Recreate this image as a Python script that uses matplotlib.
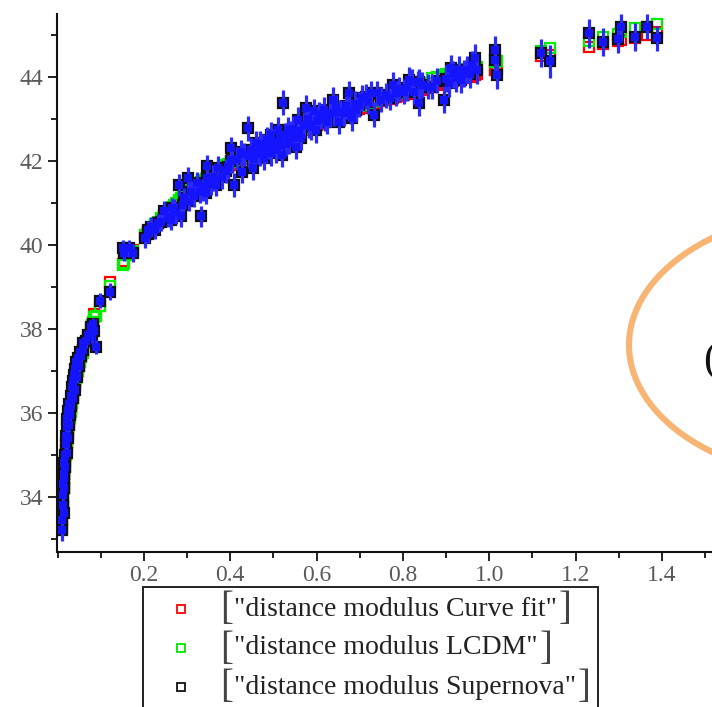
import matplotlib
matplotlib.use("Agg")
import matplotlib.pyplot as plt
from matplotlib.patches import Ellipse, Rectangle
from matplotlib.ticker import MultipleLocator

# redshift, observed distance modulus and its error
z = [0.010, 0.011, 0.012, 0.012, 0.013, 0.014, 0.014, 0.015, 0.016, 0.016,
     0.017, 0.018, 0.019, 0.020, 0.021, 0.022, 0.023, 0.024, 0.025, 0.026,
     0.027, 0.028, 0.030, 0.031, 0.033, 0.035, 0.036, 0.038, 0.040, 0.041,
     0.043, 0.045, 0.047, 0.050, 0.052, 0.055, 0.058, 0.060, 0.066, 0.070,
     0.077, 0.080, 0.083, 0.085, 0.089, 0.099, 0.122,
     0.151, 0.154, 0.166, 0.174, 0.202, 0.209, 0.210, 0.216, 0.225, 0.232,
     0.240, 0.247, 0.255, 0.262, 0.266, 0.270, 0.275, 0.282, 0.286, 0.290,
     0.293, 0.301, 0.305, 0.309, 0.315, 0.324, 0.330, 0.332, 0.336, 0.340,
     0.344, 0.347, 0.347, 0.355, 0.359, 0.362, 0.367, 0.371, 0.380, 0.390,
     0.395, 0.401, 0.401, 0.405, 0.408, 0.415, 0.425, 0.428, 0.432, 0.440,
     0.444, 0.448, 0.452, 0.455, 0.459, 0.463, 0.468, 0.470, 0.475, 0.478,
     0.482, 0.486, 0.490, 0.494, 0.494, 0.500, 0.505, 0.510, 0.510, 0.515,
     0.518, 0.521, 0.523, 0.528, 0.530, 0.533, 0.536, 0.540, 0.545, 0.548,
     0.552, 0.556, 0.560, 0.565, 0.570, 0.575, 0.580, 0.583, 0.588, 0.594,
     0.598, 0.600, 0.605, 0.610, 0.617, 0.620, 0.625, 0.630, 0.637, 0.641,
     0.645, 0.652, 0.655, 0.664, 0.668, 0.675, 0.679, 0.683, 0.688, 0.691,
     0.698, 0.706, 0.714, 0.720, 0.725, 0.732, 0.741, 0.749, 0.760, 0.770,
     0.776, 0.783, 0.790, 0.803, 0.810, 0.814, 0.822, 0.826, 0.834, 0.837,
     0.837, 0.845, 0.857, 0.868, 0.880, 0.895, 0.900, 0.907, 0.911, 0.915,
     0.922, 0.930, 0.934, 0.941, 0.949, 0.955, 0.961, 0.968, 0.971,
     1.013, 1.013, 1.017, 1.119, 1.141, 1.231, 1.264, 1.299, 1.306, 1.337,
     1.366, 1.388]

mu_sn = [33.20, 33.45, 33.80, 34.05, 34.30, 33.60, 34.55, 34.20, 34.80, 34.45,
         35.00, 34.70, 35.25, 35.45, 35.05, 35.65, 35.85, 35.40, 36.05, 35.70,
         36.20, 35.95, 36.40, 36.15, 36.60, 36.35, 36.75, 36.90, 36.55, 37.05,
         37.20, 36.85, 37.30, 37.10, 37.45, 37.35, 37.65, 37.50, 37.70, 37.85,
         38.05, 37.80, 38.10, 37.95, 37.57, 38.66, 38.88,
         39.91, 39.80, 39.91, 39.80, 40.15, 40.35, 40.25, 40.43, 40.35, 40.51,
         40.55, 40.79, 40.65, 40.59, 40.87, 40.85, 40.75, 41.42, 40.67, 40.95,
         41.10, 41.58, 41.05, 41.26, 41.15, 41.46, 41.25, 40.67, 41.30, 41.40,
         41.22, 41.86, 41.58, 41.45, 41.62, 41.55, 41.42, 41.82, 41.60, 41.75,
         41.85, 42.29, 41.98, 42.02, 41.42, 42.05, 42.21, 41.74, 42.15, 42.77,
         42.10, 42.25, 41.82, 42.05, 42.41, 42.21, 42.40, 42.15, 42.33, 42.06,
         42.25, 42.49, 42.35, 42.18, 42.61, 42.45, 42.25, 42.73, 42.41, 42.55,
         42.35, 42.14, 43.38, 42.60, 42.40, 42.73, 42.45, 42.65, 42.75, 42.53,
         42.33, 42.97, 42.70, 42.55, 42.85, 43.25, 43.00, 42.85, 42.80, 43.17,
         42.73, 42.95, 43.10, 43.05, 43.21, 43.00, 42.93, 43.10, 43.45, 43.13,
         43.25, 42.93, 43.15, 43.13, 43.30, 43.60, 43.17, 43.01, 43.35, 43.21,
         43.33, 43.49, 43.52, 43.40, 43.60, 43.09, 43.60, 43.45, 43.55, 43.50,
         43.80, 43.60, 43.70, 43.64, 43.72, 43.92, 43.88, 43.64, 43.84, 43.37,
         43.88, 43.80, 43.76, 43.76, 43.90, 43.45, 43.95, 43.84, 44.20, 44.05,
         43.96, 44.16, 43.92, 44.08, 44.16, 44.05, 44.28, 44.44, 44.16,
         44.64, 44.40, 44.04, 44.56, 44.36, 45.03, 44.82, 44.89, 45.17, 44.94,
         45.19, 44.91]

mu_err = [0.25, 0.20, 0.18, 0.20, 0.18, 0.22, 0.18, 0.20, 0.16, 0.18,
          0.16, 0.17, 0.15, 0.15, 0.16, 0.15, 0.14, 0.15, 0.14, 0.15,
          0.14, 0.14, 0.13, 0.14, 0.13, 0.14, 0.13, 0.13, 0.14, 0.13,
          0.13, 0.14, 0.13, 0.13, 0.13, 0.14, 0.13, 0.14, 0.15, 0.14,
          0.15, 0.15, 0.16, 0.15, 0.17, 0.18, 0.20,
          0.20, 0.20, 0.20, 0.22, 0.22, 0.22, 0.22, 0.22, 0.22, 0.22,
          0.23, 0.24, 0.24, 0.24, 0.24, 0.24, 0.25, 0.26, 0.24, 0.25,
          0.25, 0.26, 0.25, 0.25, 0.25, 0.26, 0.26, 0.25, 0.26, 0.26,
          0.26, 0.27, 0.27, 0.27, 0.27, 0.27, 0.27, 0.28, 0.28, 0.28,
          0.28, 0.28, 0.28, 0.28, 0.28, 0.28, 0.28, 0.28, 0.28, 0.30,
          0.28, 0.29, 0.28, 0.29, 0.30, 0.29, 0.30, 0.29, 0.30, 0.29,
          0.30, 0.30, 0.30, 0.30, 0.30, 0.30, 0.30, 0.30, 0.30, 0.30,
          0.30, 0.30, 0.30, 0.30, 0.30, 0.30, 0.30, 0.30, 0.30, 0.30,
          0.30, 0.30, 0.30, 0.30, 0.30, 0.30, 0.30, 0.30, 0.30, 0.30,
          0.30, 0.30, 0.30, 0.30, 0.30, 0.30, 0.30, 0.30, 0.30, 0.30,
          0.30, 0.30, 0.30, 0.30, 0.30, 0.30, 0.30, 0.30, 0.30, 0.30,
          0.30, 0.30, 0.30, 0.30, 0.30, 0.30, 0.30, 0.30, 0.30, 0.30,
          0.30, 0.30, 0.30, 0.30, 0.30, 0.30, 0.30, 0.30, 0.30, 0.30,
          0.30, 0.30, 0.30, 0.30, 0.30, 0.32, 0.32, 0.32, 0.32, 0.32,
          0.32, 0.32, 0.32, 0.32, 0.32, 0.32, 0.32, 0.33, 0.33,
          0.33, 0.33, 0.33, 0.33, 0.40, 0.35, 0.33, 0.33, 0.33, 0.33,
          0.30, 0.30]

# model distance moduli at the same redshifts
mu_fit = [33.25, 33.50, 33.75, 33.75, 34.00, 34.20, 34.20, 34.40, 34.55, 34.55,
          34.70, 34.85, 35.00, 35.10, 35.20, 35.30, 35.40, 35.50, 35.60, 35.70,
          35.80, 35.88, 36.02, 36.10, 36.22, 36.35, 36.42, 36.55, 36.65, 36.72,
          36.82, 36.92, 37.00, 37.12, 37.20, 37.32, 37.42, 37.50, 37.68, 37.80,
          38.00, 38.08, 38.16, 38.35, 38.30, 38.55, 39.10,
          39.55, 39.60, 39.78, 39.88, 40.22, 40.28, 40.29, 40.35, 40.45, 40.52,
          40.60, 40.67, 40.75, 40.82, 40.86, 40.90, 40.95, 41.02, 41.05, 41.09,
          41.12, 41.20, 41.23, 41.26, 41.30, 41.37, 41.41, 41.42, 41.45, 41.48,
          41.51, 41.53, 41.53, 41.59, 41.62, 41.64, 41.67, 41.70, 41.76, 41.83,
          41.86, 41.90, 41.90, 41.92, 41.94, 41.98, 42.03, 42.05, 42.07, 42.11,
          42.13, 42.15, 42.17, 42.18, 42.20, 42.22, 42.25, 42.26, 42.28, 42.29,
          42.31, 42.33, 42.35, 42.37, 42.37, 42.40, 42.42, 42.44, 42.44, 42.47,
          42.48, 42.50, 42.51, 42.53, 42.54, 42.55, 42.57, 42.58, 42.61, 42.62,
          42.64, 42.66, 42.67, 42.70, 42.72, 42.74, 42.76, 42.77, 42.79, 42.82,
          42.84, 42.85, 42.87, 42.89, 42.92, 42.93, 42.95, 42.97, 43.00, 43.01,
          43.03, 43.06, 43.07, 43.10, 43.12, 43.15, 43.16, 43.17, 43.19, 43.20,
          43.23, 43.26, 43.29, 43.31, 43.32, 43.35, 43.38, 43.41, 43.44, 43.47,
          43.49, 43.51, 43.53, 43.57, 43.59, 43.60, 43.63, 43.64, 43.66, 43.67,
          43.67, 43.69, 43.73, 43.76, 43.79, 43.83, 43.85, 43.87, 43.88, 43.89,
          43.91, 43.93, 43.94, 43.96, 43.98, 44.00, 44.02, 44.04, 44.05,
          44.16, 44.16, 44.18, 44.48, 44.52, 44.71, 44.78, 44.84, 44.86, 44.93,
          44.99, 45.05]

mu_lcdm = [33.25, 33.50, 33.75, 33.75, 34.00, 34.20, 34.20, 34.40, 34.55, 34.55,
           34.70, 34.85, 35.00, 35.10, 35.20, 35.30, 35.40, 35.50, 35.60, 35.70,
           35.80, 35.88, 36.02, 36.10, 36.22, 36.35, 36.42, 36.55, 36.65, 36.72,
           36.82, 36.92, 37.00, 37.12, 37.20, 37.32, 37.42, 37.50, 37.68, 37.80,
           38.00, 38.08, 38.16, 38.28, 38.30, 38.55, 39.02,
           39.52, 39.56, 39.75, 39.86, 40.24, 40.30, 40.31, 40.38, 40.48, 40.55,
           40.63, 40.70, 40.78, 40.85, 40.90, 40.94, 40.99, 41.06, 41.10, 41.14,
           41.17, 41.25, 41.28, 41.31, 41.36, 41.43, 41.47, 41.48, 41.51, 41.54,
           41.57, 41.59, 41.59, 41.65, 41.68, 41.70, 41.73, 41.76, 41.82, 41.89,
           41.92, 41.96, 41.96, 41.98, 42.00, 42.04, 42.09, 42.11, 42.13, 42.17,
           42.19, 42.21, 42.23, 42.24, 42.26, 42.28, 42.31, 42.32, 42.34, 42.35,
           42.37, 42.39, 42.41, 42.43, 42.43, 42.46, 42.48, 42.50, 42.50, 42.53,
           42.54, 42.56, 42.57, 42.59, 42.60, 42.61, 42.63, 42.64, 42.67, 42.68,
           42.70, 42.72, 42.73, 42.76, 42.78, 42.80, 42.82, 42.83, 42.85, 42.88,
           42.90, 42.91, 42.93, 42.95, 42.98, 42.99, 43.01, 43.03, 43.06, 43.07,
           43.09, 43.12, 43.13, 43.16, 43.18, 43.21, 43.22, 43.24, 43.26, 43.27,
           43.30, 43.33, 43.36, 43.38, 43.40, 43.43, 43.46, 43.49, 43.52, 43.56,
           43.58, 43.60, 43.62, 43.67, 43.69, 43.70, 43.73, 43.75, 43.77, 43.78,
           43.78, 43.81, 43.85, 43.96, 43.99, 44.03, 44.05, 44.07, 44.08, 44.09,
           44.11, 44.13, 44.14, 44.16, 44.18, 44.20, 44.21, 44.23, 44.24,
           44.35, 44.35, 44.36, 44.62, 44.69, 44.85, 44.95, 45.02, 45.07, 45.15,
           45.18, 45.25]

legend_labels = ['"distance modulus Curve fit"',
                 '"distance modulus LCDM"',
                 '"distance modulus Supernova"']
legend_colors = ['#ff0000', '#00e600', '#111111']

W, H = 712, 707
fig = plt.figure(figsize=(W / 100, H / 100), dpi=100)


def fpos(x, y):
    # pixel position (from top-left) -> figure fraction
    return x / W, 1 - y / H


ax = fig.add_axes([56.7 / W, (H - 551.7) / H, (W - 56.7) / W, (551.7 - 14) / H])
ax.set_xlim(-0.002, 1.516)
ax.set_ylim(32.69, 45.49)

sq = dict(marker='s', linestyle='none', markerfacecolor='none',
          markersize=7.2, markeredgewidth=1.6)
ax.plot(z, mu_fit, color='#ff0000', **sq)
ax.plot(z, mu_lcdm, color='#00ee00', **sq)
ax.plot(z, mu_sn, color='#111111', **sq)
ax.errorbar(z, mu_sn, yerr=mu_err, fmt='s', color='#1414ff', ecolor='#2a2aff',
            markersize=5.4, markeredgewidth=0, elinewidth=2.3, capsize=0)

for side in ['top', 'right']:
    ax.spines[side].set_visible(False)
for side in ['left', 'bottom']:
    ax.spines[side].set_linewidth(1.5)
    ax.spines[side].set_color('#111111')

ax.xaxis.set_minor_locator(MultipleLocator(0.1))
ax.yaxis.set_major_locator(MultipleLocator(2))
ax.yaxis.set_minor_locator(MultipleLocator(1))
ax.set_xticks([0.2, 0.4, 0.6, 0.8, 1.0, 1.2, 1.4])
ax.set_xticklabels(['0.2', '0.4', '0.6', '0.8', '1.0', '1.2', '1.4'])
ax.tick_params(which='major', direction='out', length=6.5, width=1.3,
               color='#111111', labelsize=17, labelcolor='#5a5a5a', pad=3)
ax.tick_params(which='minor', direction='out', length=4.5, width=1.3,
               color='#111111')
for lab in ax.get_xticklabels() + ax.get_yticklabels():
    lab.set_fontfamily('Liberation Serif')

# legend box, running past the lower edge
fig.patches.append(Rectangle(fpos(143, 760), (598 - 143) / W, (760 - 587) / H,
                             transform=fig.transFigure, fill=False,
                             edgecolor='#222222', linewidth=1.4))
rows = [609, 648, 687]
for row, lab, col in zip(rows, legend_labels, legend_colors):
    fig.lines.append(plt.Line2D([181 / W], [1 - row / H], transform=fig.transFigure,
                                marker='s', markersize=5.5, markerfacecolor='none',
                                markeredgecolor=col, markeredgewidth=1.3))
    fig.text(*fpos(220, row + 1), '[', fontsize=28, family='Liberation Serif',
             color='#444444', va='center', ha='left')
    t = fig.text(*fpos(234, row), lab, fontsize=20, family='Liberation Serif',
                 color='#222222', va='center', ha='left')
    fig.canvas.draw()
    bb = t.get_window_extent()
    fig.text(bb.x1 / W + 2 / W, 1 - (row + 1) / H, ']', fontsize=28,
             family='Liberation Serif', color='#444444', va='center', ha='left')

# orange ring on the right, cut by the edge
fig.patches.append(Ellipse(fpos(842, 345), 2 * 213 / W, 2 * 135 / H,
                           transform=fig.transFigure, fill=False,
                           edgecolor='#f8b472', linewidth=4.4))
fig.text(*fpos(703, 361), '(', fontsize=31, family='Liberation Serif',
         color='#111111', va='center', ha='left')

fig.savefig('out.png', dpi=100)
